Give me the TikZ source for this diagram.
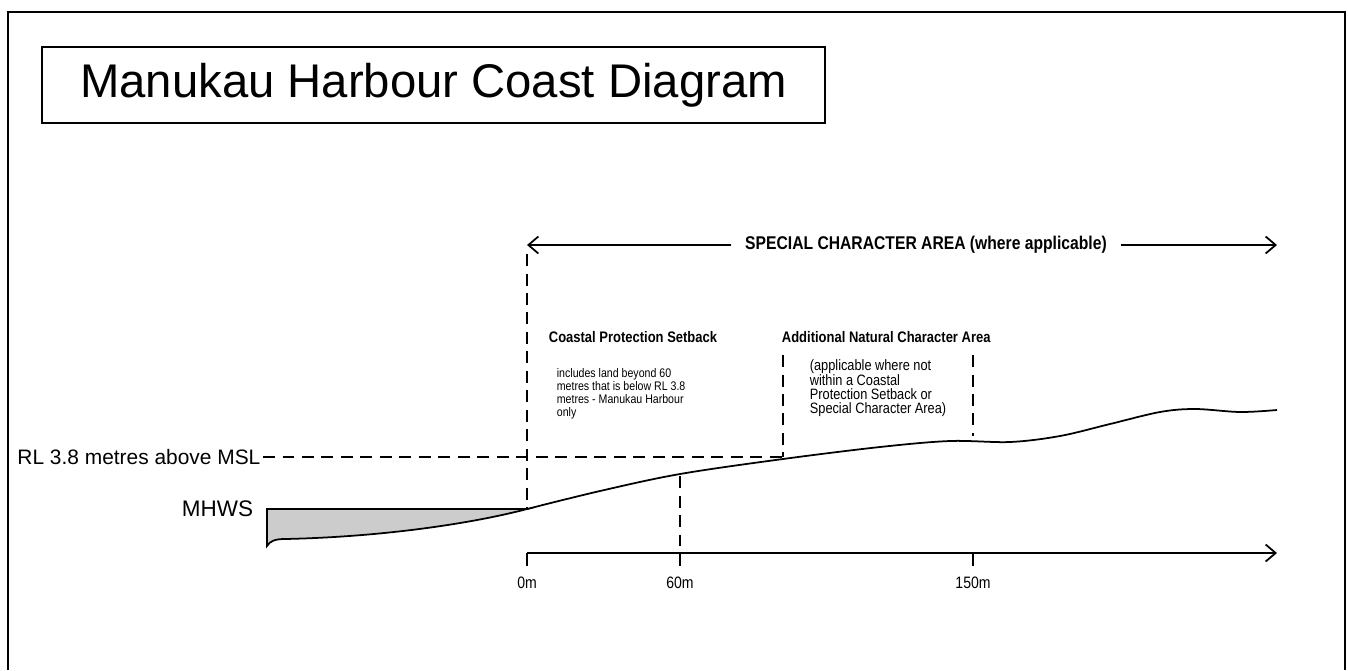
\documentclass[tikz,border=0pt]{standalone}
\usepackage{fontspec}
\setmainfont{Liberation Sans}
\newfontfamily\narrowsf[FakeStretch=0.85]{Liberation Sans}
\usetikzlibrary{arrows.meta,positioning}

\begin{document}
\begin{tikzpicture}[x=0.02cm, y=-0.02cm, line width=1pt,
    >={Straight Barb[length=2mm,width=3.4mm]},
    dashln/.style={dash pattern=on 0.24cm off 0.15cm},
    heading/.style={font=\narrowsf\fontsize{8.7}{10}\selectfont\bfseries, inner sep=0pt, anchor=west},
    note/.style={font=\narrowsf\fontsize{7.1}{7.4}\selectfont, align=left, inner sep=0pt, anchor=north west},
    dist/.style={font=\narrowsf\fontsize{9.4}{10}\selectfont}]
    \useasboundingbox (0,0) rectangle (1348,670);
    \draw (8,670) -- (8,12) -- (1345,12) -- (1345,670);
    \node [draw, minimum width=15.66cm, minimum height=1.52cm, font=\fontsize{26.9}{30}\selectfont] (title) at (433.5,85) {Manukau Harbour Coast Diagram};

    \coordinate (sa) at (527,245);
    \coordinate (sb) at (1277,245);
    \node [font=\narrowsf\fontsize{10.5}{12}\selectfont\bfseries, inner xsep=0.26cm] (sca) at (926,245) {SPECIAL CHARACTER AREA (where applicable)};
    \draw [->] (sca.west) -- (sa);
    \draw [->] (sca.east) -- (sb);

    \node [heading] (cps) at (548,337) {Coastal Protection Setback};
    \node [note] (cpsnote) at (556,368) {includes land beyond 60\\metres that is below RL 3.8\\metres - Manukau Harbour\\only};
    \node [heading] (anca) at (781,337) {Additional Natural Character Area};
    \node [note, font=\narrowsf\fontsize{8.55}{8.1}\selectfont] (ancanote) at (809,359) {(applicable where not\\within a Coastal\\Protection Setback or\\Special Character Area)};

    \coordinate (g0) at (527,509);
    \coordinate (g60) at (680,476);
    \coordinate (ganca) at (783,457);
    \coordinate (g150) at (973,436);
    \filldraw [fill=gray!40] (g0) .. controls (470,524) and (380,537) .. (285,539) .. controls (275,539) and (270,541) .. (267,546) -- (267,509) -- cycle;
    \draw plot [smooth, tension=0.55] coordinates {(527,509) (600,491) (680,474) (783,459) (880,447) (950,441) (1010,442) (1060,436) (1110,424) (1160,412) (1195,409) (1240,412) (1277,410)};

    \node [font=\fontsize{11.9}{14}\selectfont, anchor=east, inner sep=1pt] (rl) at (263,457) {RL 3.8 metres above MSL};
    \node [font=\fontsize{12.8}{15}\selectfont, anchor=east, inner sep=0pt] (mhws) at (254,509) {MHWS};
    \draw [dashln] (rl.east) -- (ganca);

    \draw [dashln] (527,254) -- (g0);
    \draw [dashln] (783,355) -- (ganca);
    \draw [dashln] (973,355) -- (g150);

    \coordinate (a0) at (527,553);
    \coordinate (aend) at (1277,553);
    \coordinate (t0) at (527,566);
    \coordinate (t60) at (680,567);
    \coordinate (t150) at (973,566);
    \draw [->] (a0) -- (aend);
    \draw (a0) -- (t0);
    \draw (973,553) -- (t150);
    \draw [dashln] (g60) -- (t60);
    \node [dist, below=0.08cm of t0] (l0) {0m};
    \node [dist, below=0.06cm of t60] (l60) {60m};
    \node [dist, below=0.08cm of t150] (l150) {150m};
\end{tikzpicture}
\end{document}
